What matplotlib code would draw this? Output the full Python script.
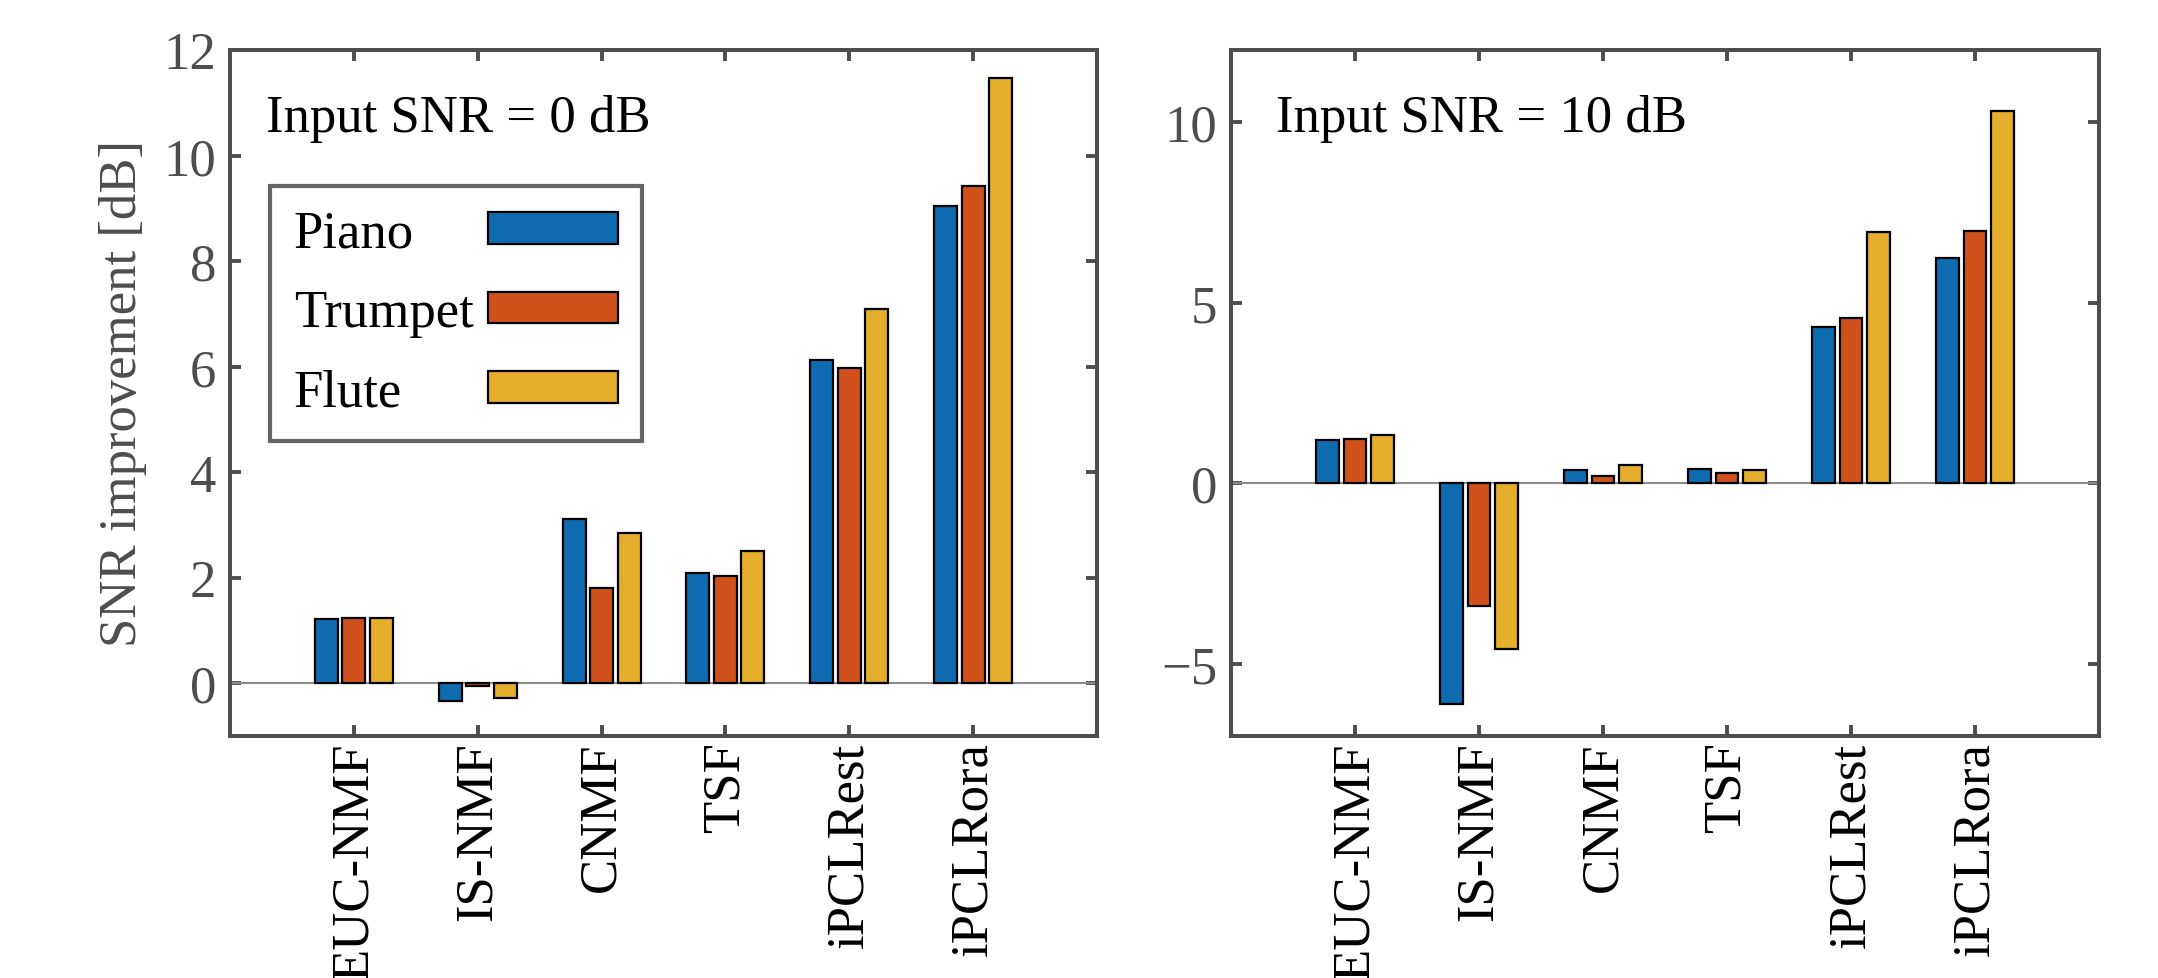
import matplotlib
matplotlib.use("Agg")
import matplotlib.pyplot as plt
import numpy as np

categories = ["EUC-NMF", "IS-NMF", "CNMF", "TSF", "iPCLRest", "iPCLRora"]
series_names = ["Piano", "Trumpet", "Flute"]

# Input SNR = 0 dB
piano_0 = [1.21, -0.34, 3.11, 2.08, 6.13, 9.04]
trumpet_0 = [1.23, -0.05, 1.80, 2.04, 5.98, 9.42]
flute_0 = [1.24, -0.28, 2.84, 2.51, 7.10, 11.47]

# Input SNR = 10 dB
piano_10 = [1.19, -6.11, 0.38, 0.40, 4.34, 6.25]
trumpet_10 = [1.23, -3.39, 0.19, 0.28, 4.57, 6.99]
flute_10 = [1.33, -4.58, 0.50, 0.36, 6.96, 10.31]

yticks_left = [0, 2, 4, 6, 8, 10, 12]
yticks_right = [-5, 0, 5, 10]

colors = ["#0F6CB1", "#D1511D", "#E4AD2C"]
spine_col = "#4D4D4D"
tick_col = "#4D4D4D"
fs = 38

plt.rcParams["font.family"] = ["Liberation Serif", "DejaVu Serif"]

fig = plt.figure(figsize=(21.58, 9.79), dpi=100)
ax1 = fig.add_axes([230 / 2158, 1 - 737 / 979, 867 / 2158, 686 / 979])
ax2 = fig.add_axes([1231 / 2158, 1 - 737 / 979, 868 / 2158, 686 / 979])

x = np.arange(1, len(categories) + 1)
offset = 0.2222
width = 0.185


def draw(ax, data, ylim, yticks, title, tx):
    handles = []
    for i, (vals, c) in enumerate(zip(data, colors)):
        h = ax.bar(x + (i - 1) * offset, vals, width=width, color=c,
                   edgecolor="black", linewidth=1.6, zorder=3,
                   label=series_names[i])
        handles.append(h)
    ax.axhline(0, color="#8C8C8C", linewidth=1.5, zorder=2)
    ax.set_xlim(0, 7)
    ax.set_ylim(*ylim)
    ax.set_yticks(yticks)
    ax.set_xticks(x)
    ax.set_xticklabels(categories, rotation=90, fontsize=fs, color="black")
    ax.tick_params(axis="y", labelsize=fs, labelcolor=tick_col)
    ax.tick_params(direction="in", length=8, width=2.8, color=spine_col,
                   top=True, right=True, pad=10)
    ax.tick_params(axis="x", pad=4)
    for s in ax.spines.values():
        s.set_linewidth(2.9)
        s.set_color(spine_col)
    ax.text(tx, 0.882, title, transform=ax.transAxes, fontsize=fs,
            color="black", va="baseline", ha="left")
    return handles


h = draw(ax1, [piano_0, trumpet_0, flute_0], (-1, 12), yticks_left,
         "Input SNR = 0 dB", 0.041)
draw(ax2, [piano_10, trumpet_10, flute_10], (-7, 12), yticks_right,
     "Input SNR = 10 dB", 0.052)

ax1.set_ylabel("SNR improvement [dB]", fontsize=fs, color=tick_col, labelpad=12)

sep_pad = 0.28
leg = ax1.legend(handles=h, labels=series_names, loc="upper left",
                 bbox_to_anchor=(0.046, 0.802), fontsize=fs, markerfirst=False,
                 frameon=True, fancybox=False, handlelength=2.46,
                 handleheight=0.55, labelspacing=0.6, handletextpad=sep_pad,
                 borderpad=0.45, borderaxespad=0)
leg.get_frame().set_edgecolor("#404040")
leg.get_frame().set_linewidth(3.0)

# left-align legend labels (text first, patch after)
fig.canvas.draw()
renderer = fig.canvas.get_renderer()
widths = [t.get_window_extent(renderer).width for t in leg.get_texts()]
maxw = max(widths)
column = leg._legend_handle_box.get_children()[0]
for row, w in zip(column.get_children(), widths):
    row.sep = sep_pad * fs + (maxw - w) * 72 / fig.dpi

fig.savefig("out.png", dpi=100)
